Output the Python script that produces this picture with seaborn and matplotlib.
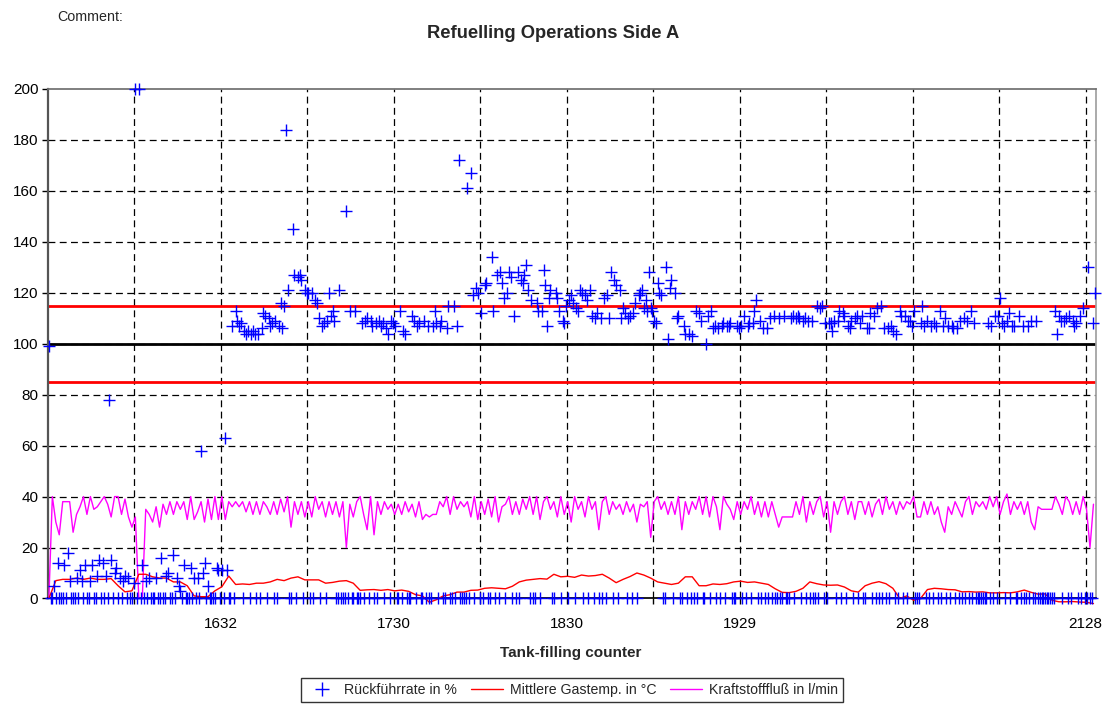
import matplotlib
matplotlib.use("Agg")
import matplotlib.pyplot as plt
from matplotlib.lines import Line2D
from matplotlib.ticker import FixedLocator, NullFormatter
import numpy as np
import seaborn as sns

# Rückführrate in %, one value per tank filling
rueckfuehrrate = [
    99, 0, 0, 5, 0, 14, 0, 0, 0, 13,
    0, 18, 7, 0, 0, 0, 8, 0, 11, 7,
    0, 13, 0, 0, 7, 13, 0, 0, 9, 15,
    0, 14, 0, 9, 0, 78, 15, 0, 10, 12,
    0, 8, 0, 7, 9, 0, 8, 0, 0, 6,
    200, 0, 200, 0, 13, 0, 7, 0, 8, 0,
    0, 0, 8, 0, 0, 16, 0, 0, 9, 10,
    0, 0, 17, 0, 8, 5, 3, 0, 13, 0,
    0, 0, 12, 0, 8, 0, 8, 0, 58, 10,
    14, 0, 5, 0, 0, 0, 0, 12, 11, 0,
    11, 0, 63, 11, 0, 0, 107, 0, 113, 109,
    107, 108, 0, 105, 104, 105, 0, 104, 105, 104,
    0, 104, 0, 106, 112, 111, 0, 110, 107, 108,
    0, 109, 0, 107, 116, 106, 115, 184, 121, 0,
    0, 145, 127, 0, 126, 127, 125, 0, 121, 120,
    120, 0, 120, 0, 117, 116, 110, 0, 107, 108,
    0, 109, 120, 111, 113, 109, 0, 0, 121, 0,
    0, 0, 152, 0, 113, 0, 0, 113, 0, 0,
    0, 108, 0, 109, 110, 0, 109, 107, 0, 108,
    0, 109, 107, 108, 0, 106, 104, 0, 109, 108,
    107, 0, 0, 113, 0, 105, 104, 0, 0, 0,
    111, 109, 0, 107, 108, 0, 0, 109, 0, 107,
    0, 0, 107, 113, 108, 0, 107, 109, 0, 0,
    106, 115, 0, 0, 115, 0, 107, 172, 0, 0,
    0, 0, 161, 0, 167, 119, 0, 122, 120, 0,
    112, 0, 123, 124, 0, 0, 134, 113, 0, 127,
    0, 128, 124, 118, 0, 120, 128, 126, 0, 111,
    0, 128, 0, 125, 124, 127, 131, 121, 0, 117,
    0, 0, 116, 113, 0, 113, 129, 123, 107, 118,
    121, 0, 0, 120, 118, 113, 0, 109, 108, 115,
    0, 117, 119, 116, 0, 114, 113, 121, 120, 0,
    119, 117, 0, 121, 111, 0, 110, 112, 0, 110,
    0, 118, 0, 119, 110, 128, 0, 125, 123, 0,
    121, 110, 114, 112, 0, 110, 111, 0, 112, 116,
    0, 119, 120, 121, 114, 117, 113, 128, 114, 113,
    109, 108, 124, 120, 119, 0, 0, 130, 102, 122,
    125, 0, 120, 110, 111, 0, 0, 107, 104, 0,
    104, 0, 103, 0, 113, 0, 112, 109, 0, 0,
    100, 111, 0, 113, 106, 107, 0, 106, 0, 107,
    108, 0, 107, 107, 108, 0, 0, 0, 107, 106,
    107, 0, 111, 0, 107, 108, 0, 108, 113, 117,
    0, 109, 0, 106, 0, 106, 0, 110, 0, 111,
    0, 0, 110, 0, 0, 111, 0, 0, 0, 110,
    111, 0, 110, 111, 110, 0, 109, 110, 0, 109,
    0, 109, 0, 0, 115, 0, 114, 115, 0, 108,
    0, 108, 108, 105, 109, 0, 109, 113, 0, 112,
    111, 0, 107, 106, 109, 0, 110, 111, 0, 108,
    111, 0, 0, 106, 106, 112, 0, 111, 0, 114,
    0, 115, 0, 106, 0, 106, 0, 107, 105, 0,
    104, 0, 113, 111, 0, 111, 0, 109, 109, 107,
    113, 0, 0, 0, 108, 115, 107, 0, 109, 0,
    107, 0, 108, 107, 0, 113, 0, 107, 110, 0,
    107, 0, 107, 106, 0, 106, 0, 109, 0, 110,
    0, 109, 0, 113, 0, 108, 0, 0, 0, 0,
    0, 0, 0, 108, 0, 107, 0, 111, 0, 111,
    118, 108, 107, 0, 109, 112, 0, 107, 107, 0,
    0, 111, 0, 107, 0, 0, 107, 0, 109, 0,
    0, 109, 0, 0, 0, 0, 0, 0, 0, 0,
    0, 0, 113, 104, 111, 109, 0, 109, 110, 0,
    111, 0, 109, 107, 108, 0, 111, 0, 114, 0,
    0, 130, 0, 0, 108, 120,
]

# Kraftstofffluß in l/min, read every 2nd filling
kraftstofffluss = [
    0, 40, 30, 25, 38, 38, 38, 26, 33, 36,
    40, 33, 40, 35, 36, 38, 40, 37, 32, 40,
    40, 33, 39, 32, 28, 32, 0, 0, 35, 33,
    30, 36, 28, 37, 33, 38, 33, 38, 35, 38,
    31, 40, 31, 34, 38, 30, 39, 31, 40, 31,
    40, 31, 38, 36, 38, 36, 38, 34, 38, 33,
    38, 33, 38, 36, 33, 38, 33, 39, 34, 40,
    28, 38, 33, 38, 32, 38, 32, 40, 35, 38,
    32, 38, 33, 38, 32, 38, 20, 37, 32, 38,
    40, 33, 27, 40, 25, 38, 33, 38, 35, 37,
    33, 37, 33, 38, 34, 37, 32, 38, 31, 33,
    32, 33, 33, 38, 36, 40, 33, 40, 35, 38,
    36, 38, 32, 40, 31, 38, 33, 39, 32, 40,
    30, 36, 37, 40, 33, 38, 33, 39, 35, 40,
    33, 40, 31, 38, 40, 35, 38, 32, 40, 33,
    38, 30, 40, 35, 38, 32, 40, 35, 38, 27,
    38, 40, 33, 38, 35, 37, 33, 38, 34, 37,
    30, 37, 36, 38, 24, 38, 40, 35, 38, 33,
    38, 33, 40, 27, 38, 33, 38, 35, 40, 33,
    40, 32, 40, 36, 27, 40, 37, 35, 31, 38,
    33, 38, 35, 40, 33, 38, 32, 38, 32, 38,
    33, 28, 32, 32, 32, 32, 38, 33, 40, 30,
    38, 33, 38, 40, 32, 38, 26, 38, 33, 38,
    40, 33, 38, 31, 38, 38, 33, 38, 32, 37,
    39, 33, 40, 35, 38, 33, 38, 35, 38, 37,
    40, 32, 32, 38, 33, 38, 33, 36, 30, 26,
    36, 33, 38, 35, 32, 38, 40, 33, 38, 36,
    38, 35, 40, 36, 40, 33, 38, 41, 33, 38,
    35, 38, 33, 38, 30, 27, 36, 35, 35, 35,
    35, 40, 37, 33, 40, 38, 33, 38, 33, 40,
    35, 20, 37,
]

# Mittlere Gastemp. in °C, read every 4th filling
gastemp = [
    0, 7, 7.5, 7.5, 8, 7.5, 8, 7.5, 7.5, 7.8,
    5, 2.6, 3, 9.5, 9.5, 8.5, 8, 8, 6.5, 6.5,
    5, 1, 0.7, 0.7, 3, 4.6, 8.8, 5.5, 5.7, 5.5,
    6, 6, 6.5, 7.5, 7, 8, 8.5, 7.3, 7.3, 7.3,
    6, 6.3, 6.8, 7, 6, 3.2, 3.4, 3.5, 3.2, 3.5,
    3, 3.3, 2.8, 1.5, 1, -1.5, -0.5, 1, 1.5, 2.5,
    2.5, 3.2, 3.3, 4, 4.2, 4, 3.8, 4.8, 6.5, 7.2,
    7.5, 7.8, 7.6, 9.5, 8.5, 8.7, 8.3, 9.2, 8.8, 9,
    9.5, 8, 6.2, 7.5, 8.6, 10, 9.2, 8, 6.5, 6,
    5.5, 6, 8.5, 8.5, 5, 5, 5.7, 5.5, 5.8, 6.5,
    6.8, 6.3, 6.5, 6, 5.5, 3.8, 2.4, 2.3, 2.8, 4,
    6.5, 5.8, 5.3, 5.2, 5.3, 4.5, 3, 2.5, 5, 6,
    6.6, 5.8, 4, 0, 1, -0.7, 0, 3.5, 4, 3.8,
    3.5, 3.4, 2.6, 2.7, 2.5, 2.6, 2.2, 2.2, 2.3, 2.2,
    2.6, 3.3, 2.4, 1.7, 1.8, -0.7, -1.3, -1.3, -1.2, -1.4,
    -1.5, -2,
]

counter_labels = ["1632", "1730", "1830", "1929", "2028", "2128"]
limit_upper = 115
limit_target = 100
limit_lower = 85

sns.set_theme(style="white")
plt.rcParams["font.family"] = ["Liberation Sans", "DejaVu Sans"]

n_fill = len(rueckfuehrrate)
x_rate = np.arange(n_fill)
x_flow = np.arange(len(kraftstofffluss)) * 2
x_temp = np.arange(len(gastemp)) * 4

fig = plt.figure(figsize=(11.04, 7.05), dpi=100)
ax = fig.add_axes([0.0435, 0.1511, 0.9493, 0.7227])

ax.axhline(limit_upper, color="#ff0000", linewidth=2, zorder=2)
ax.axhline(limit_lower, color="#ff0000", linewidth=2, zorder=2)
ax.axhline(limit_target, color="black", linewidth=2, zorder=2)

sns.lineplot(x=x_flow, y=kraftstofffluss, color="#ff00ff", linewidth=1,
             estimator=None, sort=False, ax=ax, zorder=3)
sns.lineplot(x=x_temp, y=gastemp, color="#ff0000", linewidth=1,
             estimator=None, sort=False, ax=ax, zorder=3)
ax.lines[-1].set_clip_on(False)
sns.scatterplot(x=x_rate, y=rueckfuehrrate, marker="+", s=85, color="#0000ff",
                linewidth=1.0, ax=ax, zorder=4)
ax.collections[-1].set_clip_on(False)

ax.set_xlim(-0.5, n_fill - 0.5)
ax.set_ylim(0, 200)
ax.set_yticks(np.arange(0, 201, 20))

grid_pos = np.arange(49.5, n_fill, 50)
label_pos = grid_pos[1::2]
ax.xaxis.set_major_locator(FixedLocator(label_pos))
ax.set_xticklabels(counter_labels[:len(label_pos)])
ax.xaxis.set_minor_locator(FixedLocator(grid_pos[0::2]))
ax.xaxis.set_minor_formatter(NullFormatter())

for gx in grid_pos:
    ax.axvline(gx, color="black", linewidth=0.9, linestyle=(0, (5.5, 3.5)), zorder=1)
for gy in np.arange(20, 200, 20):
    ax.axhline(gy, color="black", linewidth=0.9, linestyle=(0, (5.5, 3.5)), zorder=1)

ax.tick_params(axis="both", which="both", direction="out", length=4, width=1,
               color="black", labelsize=11, labelcolor="black", bottom=True, left=True)
ax.tick_params(axis="x", pad=9)
ax.tick_params(axis="y", pad=3)

ax.spines["left"].set_color("#555555")
ax.spines["left"].set_linewidth(1.6)
ax.spines["bottom"].set_color("black")
ax.spines["top"].set_color("#707070")
ax.spines["right"].set_color("#a0a0a0")
ax.set_xlabel("")
ax.set_ylabel("")

fig.text(0.0516, 0.976, "Comment:", fontsize=10.3, ha="left", va="center")
fig.text(0.501, 0.953, "Refuelling Operations Side A", fontsize=13.2,
         fontweight="bold", ha="center", va="center")
fig.text(0.517, 0.0738, "Tank-filling counter", fontsize=11,
         fontweight="bold", ha="center", va="center")

handles = [
    Line2D([], [], color="#0000ff", marker="+", linestyle="none",
           markersize=10, markeredgewidth=1.0),
    Line2D([], [], color="#ff0000", linewidth=1),
    Line2D([], [], color="#ff00ff", linewidth=1),
]
labels = ["Rückführrate in %", "Mittlere Gastemp. in °C", "Kraftstofffluß in l/min"]
leg = fig.legend(handles, labels, loc="center", bbox_to_anchor=(0.518, 0.021),
                 ncol=3, fontsize=10.2, frameon=True, fancybox=False,
                 handlelength=2.2, handletextpad=0.5, columnspacing=1.0,
                 borderpad=0.35)
leg.get_frame().set_edgecolor("black")
leg.get_frame().set_linewidth(1)

fig.savefig("out.png", dpi=100)
